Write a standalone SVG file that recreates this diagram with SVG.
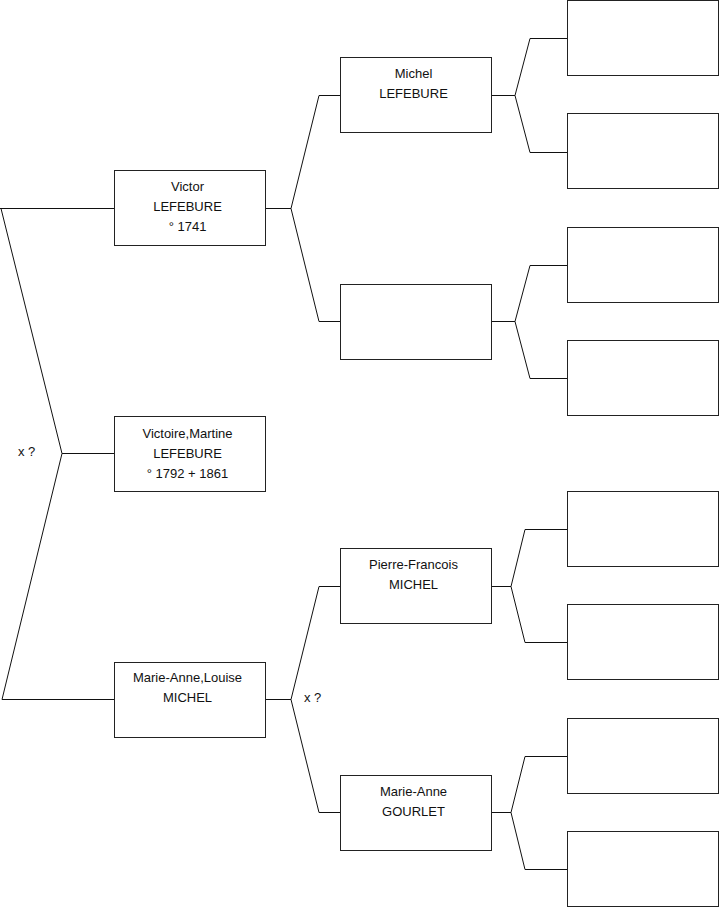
<svg xmlns="http://www.w3.org/2000/svg" width="719" height="908" viewBox="0 0 719 908">
<style>
.box{fill:#fff;stroke:#222;stroke-width:1}
.c{fill:none;stroke:#111;stroke-width:1}
text{font-family:"Liberation Sans",Arial,sans-serif;font-size:13px;fill:#111}
.m{text-anchor:middle}
</style>
<rect width="719" height="908" fill="#fff"/>
<g id="connectors">
<path class="c" d="M0,208.5H114 M1,208.5L62,453.5L2,699.5 M62,453.5H114 M2,699.5H114"/>
<path class="c" d="M265,208.5H291 M319,95.5L291,208.5L319,321.5 M319,95.5H340 M319,321.5H340"/>
<path class="c" d="M265,699.5H291 M319,586.5L291,699.5L319,812.5 M319,586.5H340 M319,812.5H340"/>
<path class="c" d="M491,95.5H515 M530,38.5L515,95.5L530,152.5 M530,38.5H567 M530,152.5H567"/>
<path class="c" d="M491,321.5H515 M530,265.5L515,321.5L530,378.5 M530,265.5H567 M530,378.5H567"/>
<path class="c" d="M491,586.5H511 M525,529.5L511,586.5L525,642.5 M525,529.5H567 M525,642.5H567"/>
<path class="c" d="M491,812.5H511 M525,756.5L511,812.5L525,869.5 M525,756.5H567 M525,869.5H567"/>
</g>
<text x="18" y="456">x ?</text>
<text x="304" y="702">x ?</text>
<g id="victor"><rect class="box" x="114.5" y="170.5" width="151" height="75"/>
<text class="m" x="187.5" y="191">Victor</text><text class="m" x="187.5" y="211">LEFEBURE</text><text class="m" x="187.5" y="231">° 1741</text></g>
<g id="victoire"><rect class="box" x="114.5" y="416.5" width="151" height="75"/>
<text class="m" x="187.5" y="438">Victoire,Martine</text><text class="m" x="187.5" y="458">LEFEBURE</text><text class="m" x="187.5" y="478">° 1792 + 1861</text></g>
<g id="marieannelouise"><rect class="box" x="114.5" y="662.5" width="151" height="75"/>
<text class="m" x="187.5" y="682">Marie-Anne,Louise</text><text class="m" x="187.5" y="702">MICHEL</text></g>
<g id="michel"><rect class="box" x="340.5" y="57.5" width="151" height="75"/>
<text class="m" x="413.5" y="78">Michel</text><text class="m" x="413.5" y="98">LEFEBURE</text></g>
<g id="empty2"><rect class="box" x="340.5" y="284.5" width="151" height="75"/></g>
<g id="pierrefrancois"><rect class="box" x="340.5" y="548.5" width="151" height="75"/>
<text class="m" x="413.5" y="569">Pierre-Francois</text><text class="m" x="413.5" y="589">MICHEL</text></g>
<g id="marieanne"><rect class="box" x="340.5" y="775.5" width="151" height="75"/>
<text class="m" x="413.5" y="796">Marie-Anne</text><text class="m" x="413.5" y="816">GOURLET</text></g>
<g id="g3a"><rect class="box" x="567.5" y="0.5" width="151" height="75"/></g>
<g id="g3b"><rect class="box" x="567.5" y="113.5" width="151" height="75"/></g>
<g id="g3c"><rect class="box" x="567.5" y="227.5" width="151" height="75"/></g>
<g id="g3d"><rect class="box" x="567.5" y="340.5" width="151" height="75"/></g>
<g id="g3e"><rect class="box" x="567.5" y="491.5" width="151" height="75"/></g>
<g id="g3f"><rect class="box" x="567.5" y="604.5" width="151" height="75"/></g>
<g id="g3g"><rect class="box" x="567.5" y="718.5" width="151" height="75"/></g>
<g id="g3h"><rect class="box" x="567.5" y="831.5" width="151" height="75"/></g>
</svg>
